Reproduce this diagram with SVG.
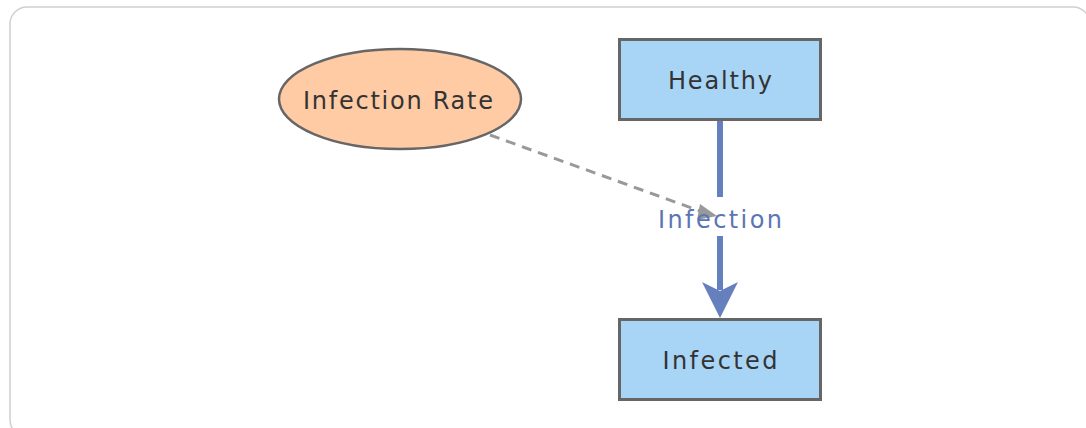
<svg xmlns="http://www.w3.org/2000/svg" width="1086" height="428" viewBox="0 0 1086 428">
  <style>
    .lbl { font-family: "Comic Sans MS", "DejaVu Sans", "Liberation Sans", sans-serif; font-size: 24px; text-anchor: middle; }
    .node-text { fill: #333333; }
    .stock { fill: #A8D4F6; stroke: #666666; stroke-width: 3; }
    .flow-text { fill: #5B75B5; }
  </style>
  <rect x="10" y="7" width="1080" height="430" rx="17" ry="17" fill="#ffffff" stroke="#d0d0d0" stroke-width="1.5"/>

  <g id="connectors">
    <g id="flow-infection">
      <line x1="720" y1="121" x2="720" y2="197" stroke="#6680BE" stroke-width="6"/>
      <line x1="720" y1="236" x2="720" y2="290" stroke="#6680BE" stroke-width="6"/>
      <path d="M702,282 L720,318 L738,282 L720,291 z" fill="#6680BE"/>
    </g>
    <g id="link-rate">
      <line x1="490" y1="135" x2="700" y2="211" stroke="#999999" stroke-width="3" stroke-dasharray="10 7"/>
      <path d="M700,204 L717,216 L697,220 z" fill="#999999"/>
    </g>
    <text class="lbl flow-text" x="720" y="228" textLength="124" lengthAdjust="spacing">Infection</text>
  </g>

  <g id="node-infection-rate">
    <ellipse cx="400" cy="99" rx="121" ry="50" fill="#FFCBA4" stroke="#666666" stroke-width="2.5"/>
    <text class="lbl node-text" x="398" y="109" textLength="190" lengthAdjust="spacing">Infection Rate</text>
  </g>
  <g id="node-healthy">
    <rect class="stock" x="619.5" y="39.5" width="201" height="80"/>
    <text class="lbl node-text" x="720" y="89" textLength="104" lengthAdjust="spacing">Healthy</text>
  </g>
  <g id="node-infected">
    <rect class="stock" x="619.5" y="319.5" width="201" height="80"/>
    <text class="lbl node-text" x="720" y="369" textLength="115" lengthAdjust="spacing">Infected</text>
  </g>
</svg>
